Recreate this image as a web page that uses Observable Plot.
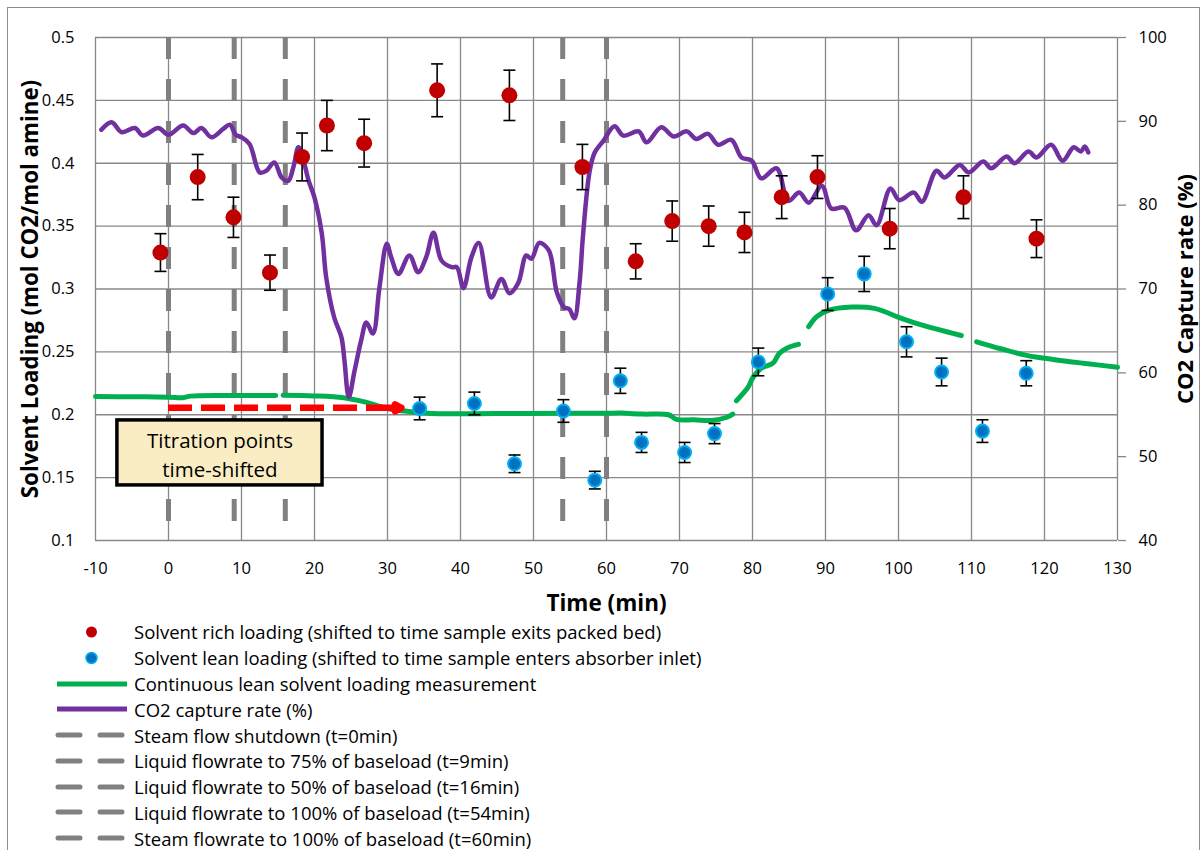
<!DOCTYPE html>
<html><head><meta charset="utf-8">
<script src="https://cdn.jsdelivr.net/npm/d3@7"></script>
<script src="https://cdn.jsdelivr.net/npm/@observablehq/plot@0.6"></script>
<style>
body{margin:0;background:#fff;font-family:"Open Sans",Lato,sans-serif;}
#frame{position:absolute;left:7px;top:7px;width:1191px;height:860px;border:1px solid #8c8c8c;overflow:hidden;}
#chart svg{display:block;}
#legend{margin-top:-1px;}
.row{display:flex;align-items:center;height:25.8px;font-size:18.5px;color:#000;}
.row svg{flex:none;}
.row span{margin-left:0;white-space:nowrap;}
</style>
</head><body>
<div id="frame"><div id="chart"></div><div id="legend"></div></div>
<script>
// ---- data ----
const xTicks = [-10,0,10,20,30,40,50,60,70,80,90,100,110,120,130];
const yTicks = [0.1,0.15,0.2,0.25,0.3,0.35,0.4,0.45,0.5];
const rateTicks = [40,50,60,70,80,90,100];

const richTime = [-1.1,4.0,8.9,13.9,18.3,21.7,26.8,36.8,46.7,56.7,64.0,69.0,74.0,78.9,84.0,88.9,98.8,108.9,118.9];
const richLoad = [0.329,0.389,0.357,0.313,0.405,0.430,0.416,0.458,0.454,0.397,0.322,0.354,0.350,0.345,0.373,0.389,0.348,0.373,0.340];
const richErr  = [0.015,0.018,0.016,0.014,0.019,0.020,0.019,0.021,0.020,0.018,0.014,0.016,0.016,0.016,0.017,0.017,0.016,0.017,0.015];

const leanTime = [34.4,41.9,47.4,54.1,58.4,61.9,64.8,70.7,74.8,80.8,90.3,95.3,101.1,105.9,111.5,117.5];
const leanLoad = [0.205,0.209,0.161,0.203,0.148,0.227,0.178,0.170,0.185,0.242,0.296,0.312,0.258,0.234,0.187,0.233];
const leanErr  = [0.009,0.009,0.007,0.009,0.007,0.010,0.008,0.008,0.008,0.011,0.013,0.014,0.012,0.011,0.009,0.010];

// continuous lean loading (NaN = gap in record)
const contTime = [-10,-5,0,2,3,8,14.7,15.0,15.7,20,24,27,30,33,36,45,55,60,62,65,68.5,69.6,72,74.4,76.5,77.3,77.5,77.8,79.4,80.1,81.2,82.8,83.7,84.9,86.3,87.0,87.7,88.8,90.4,93.6,96.7,100.4,102,105,108.6,109.5,110.7,114,117.7,121.2,125.3,130];
const contLoad = [0.2145,0.2143,0.2140,0.2136,0.2148,0.2153,0.2153,NaN,0.2155,0.2150,0.2135,0.2100,0.2050,0.2025,0.2010,0.2010,0.2012,0.2012,0.2013,0.2005,0.2000,0.1963,0.1960,0.1955,0.1980,0.2005,NaN,0.2112,0.2220,0.2300,0.2370,0.2410,0.2490,0.2535,0.2560,NaN,0.2700,0.2780,0.2830,0.2856,0.2846,0.2766,0.2735,0.2685,0.2630,NaN,0.2580,0.2525,0.2470,0.2440,0.2410,0.2378];

// CO2 capture rate (%)
const rateTime = [-9.2,-7.8,-6.4,-4.6,-3.5,-1.4,0,2.0,3.4,4.5,5.9,7.5,8.4,9.2,10.0,11.1,12.5,13.4,14.5,15.5,16.4,17.1,17.8,18.5,19.2,20.0,21.0,21.6,22.7,23.7,24.1,24.7,25.5,26.4,27.1,28.0,28.9,29.9,30.5,31.5,33.0,34.2,35.3,36.3,37.4,38.8,39.5,40.4,41.5,42.5,44.2,45.6,46.7,47.9,49.0,49.7,50.8,52.1,53.2,54.2,54.9,55.6,56.3,56.8,57.7,58.4,59.6,61.1,62.3,64.4,65.5,67.5,69.2,71.0,72.3,73.9,75.3,77.1,78.5,79.9,81.2,83.3,84.9,86.4,87.7,89.5,90.8,92.6,94.2,95.9,97.0,98.9,100.1,102.1,103.2,105.2,106.3,108.4,109.6,111.6,112.7,114.8,115.9,117.8,118.9,120.9,122.5,124.0,125.0,125.5,126.0];
const rateVal  = [89.0,89.9,88.7,89.2,88.3,89.2,88.4,89.5,88.6,89.2,88.1,89.1,89.6,88.4,88.1,87.3,83.9,84.1,85.1,83.3,82.9,84.5,86.9,85.3,82.9,80.9,76.6,71.4,66.6,64.2,61.5,57.1,60.3,63.9,66.0,64.7,70.2,75.4,73.8,71.8,74.0,72.0,73.8,76.7,73.4,72.6,72.6,70.1,73.8,75.5,69.0,71.2,69.5,70.7,74.0,73.6,75.5,74.6,69.6,67.8,67.6,66.5,70.7,76.6,84.1,86.3,87.7,89.4,88.3,88.8,87.5,89.3,88.2,88.8,87.9,88.5,87.2,87.8,85.7,85.3,83.2,84.4,80.5,81.5,80.3,82.3,79.6,79.7,77.0,78.8,77.6,82.0,80.6,81.5,80.4,84.1,83.3,84.8,83.9,85.2,84.4,85.8,85.0,86.4,85.7,87.2,85.3,86.9,86.4,87.0,86.3];

const eventTimes = [0,9,16,54,60];
const eventLabels = ["Steam flow shutdown (t=0min)","Liquid flowrate to 75% of baseload (t=9min)","Liquid flowrate to 50% of baseload (t=16min)","Liquid flowrate to 100% of baseload (t=54min)","Steam flowrate to 100% of baseload (t=60min)"];

const arrowAnno = [{t1:0, t2:31.9, v:0.2055}];
const boxAnno = [{t1:-7.0, t2:21.1, v1:0.1438, v2:0.1955, label:"Titration points\ntime-shifted"}];

const xTitle = "Time (min)";
const yTitle = "Solvent Loading (mol CO2/mol amine)";
const y2Title = "CO2 Capture rate (%)";

// ---- build ----
const rich = richTime.map((t,i)=>({t, v:richLoad[i], e:richErr[i]}));
const lean = leanTime.map((t,i)=>({t, v:leanLoad[i], e:leanErr[i]}));
const cont = contTime.map((t,i)=>({t, v:contLoad[i]}));
// secondary axis: capture rate 40..100 mapped onto loading 0.1..0.5
const rateToLoad = d3.scaleLinear().domain([40,100]).range([0.1,0.5]);
const rate = rateTime.map((t,i)=>({t, v:rateToLoad(rateVal[i])}));

const cap = {draw(ctx){ctx.moveTo(-6,0);ctx.lineTo(6,0);}};
const grid = {stroke:"#888", strokeOpacity:1, strokeWidth:1.3};

const chart = Plot.plot({
  width:1191, height:612,
  marginLeft:87, marginRight:82, marginTop:29, marginBottom:80,
  x:{domain:[-10,130]},
  y:{domain:[0.1,0.5]},
  style:{fontFamily:"'Open Sans', Lato, sans-serif", fontSize:"16.5px", color:"#000", background:"#fff", overflow:"visible"},
  marks:[
    Plot.gridX(xTicks, grid),
    Plot.gridY(yTicks, grid),
    Plot.ruleX(eventTimes, {stroke:"#808080", strokeWidth:5, strokeDasharray:"22,20"}),
    Plot.line(cont, {x:"t", y:"v", stroke:"#00B050", strokeWidth:5, curve:"catmull-rom", strokeLinecap:"round"}),
    Plot.line(rate, {x:"t", y:"v", stroke:"#7030A0", strokeWidth:4.5, curve:"catmull-rom", strokeLinecap:"round", strokeLinejoin:"round"}),
    Plot.ruleX(rich, {x:"t", y1:d=>d.v-d.e, y2:d=>d.v+d.e, stroke:"#000", strokeWidth:1.6}),
    Plot.dot(rich, {x:"t", y:d=>d.v+d.e, symbol:cap, stroke:"#000", strokeWidth:1.6, fill:"none"}),
    Plot.dot(rich, {x:"t", y:d=>d.v-d.e, symbol:cap, stroke:"#000", strokeWidth:1.6, fill:"none"}),
    Plot.ruleX(lean, {x:"t", y1:d=>d.v-d.e, y2:d=>d.v+d.e, stroke:"#000", strokeWidth:1.6}),
    Plot.dot(lean, {x:"t", y:d=>d.v+d.e, symbol:cap, stroke:"#000", strokeWidth:1.6, fill:"none"}),
    Plot.dot(lean, {x:"t", y:d=>d.v-d.e, symbol:cap, stroke:"#000", strokeWidth:1.6, fill:"none"}),
    Plot.dot(rich, {x:"t", y:"v", r:8, fill:"#C00000", stroke:"none"}),
    Plot.dot(lean, {x:"t", y:"v", r:6.5, fill:"#0070C0", stroke:"#00B0F0", strokeWidth:2}),
    Plot.ruleY(arrowAnno, {x1:"t1", x2:d=>d.t2-2.5, y:"v", stroke:"#FF0000", strokeWidth:6.5, strokeDasharray:"24,9"}),
    Plot.arrow(arrowAnno, {x1:d=>d.t2-3, x2:"t2", y1:"v", y2:"v", stroke:"#FF0000", strokeWidth:6.5, headLength:30, headAngle:58, strokeLinecap:"round", strokeLinejoin:"round"}),
    Plot.rect(boxAnno, {x1:"t1", x2:"t2", y1:"v1", y2:"v2", fill:"#FAEDC4", stroke:"#000", strokeWidth:3.5}),
    Plot.text(boxAnno, {x:d=>(d.t1+d.t2)/2, y:d=>(d.v1+d.v2)/2, text:"label", fontSize:20.5, lineHeight:1.42, fill:"#000"}),
    Plot.axisX(xTicks, {tickSize:0, tickPadding:22, tickFormat:d=>String(d), label:null, fontSize:16.5}),
    Plot.axisY(yTicks, {tickSize:0, tickPadding:21, tickFormat:d=>String(+d.toFixed(2)), label:null, fontSize:16.5}),
    Plot.axisY(rateTicks.map(rateToLoad), {anchor:"right", tickSize:8, tickPadding:13, stroke:"#888", strokeWidth:1.3, tickFormat:d=>String(Math.round(rateToLoad.invert(d))), label:null, fontSize:16.5}),
    Plot.text([xTitle], {frameAnchor:"bottom", dy:70, fontWeight:"bold", fontSize:22.5}),
    Plot.text([yTitle], {frameAnchor:"left", dx:-65, rotate:-90, textAnchor:"middle", fontWeight:"bold", fontSize:22.3}),
    Plot.text([y2Title], {frameAnchor:"right", dx:68, rotate:-90, textAnchor:"middle", fontWeight:"bold", fontSize:22})
  ]
});
document.getElementById("chart").appendChild(chart);

// ---- legend (HTML below the SVG) ----
const legendItems = [
  {type:"dot", fill:"#C00000", stroke:"none", label:"Solvent rich loading (shifted to time sample exits packed bed)"},
  {type:"dot", fill:"#0070C0", stroke:"#00B0F0", label:"Solvent lean loading (shifted to time sample enters absorber inlet)"},
  {type:"line", stroke:"#00B050", label:"Continuous lean solvent loading measurement"},
  {type:"line", stroke:"#7030A0", label:"CO2 capture rate (%)"},
  ...eventLabels.map(l=>({type:"dash", stroke:"#808080", label:l}))
];
const leg = document.getElementById("legend");
for (const it of legendItems) {
  const row = document.createElement("div"); row.className = "row";
  let sw = "";
  if (it.type==="dot") sw = `<circle cx="83.5" cy="13" r="5.5" fill="${it.fill}" stroke="${it.stroke}" stroke-width="1.5"/>`;
  else if (it.type==="line") sw = `<line x1="49" x2="119" y1="13" y2="13" stroke="${it.stroke}" stroke-width="5"/>`;
  else sw = `<line x1="50" x2="120" y1="13" y2="13" stroke="${it.stroke}" stroke-width="5" stroke-dasharray="22,20" stroke-linecap="round"/>`;
  row.innerHTML = `<svg width="126" height="26">${sw}</svg><span>${it.label}</span>`;
  leg.appendChild(row);
}
</script>
</body></html>
